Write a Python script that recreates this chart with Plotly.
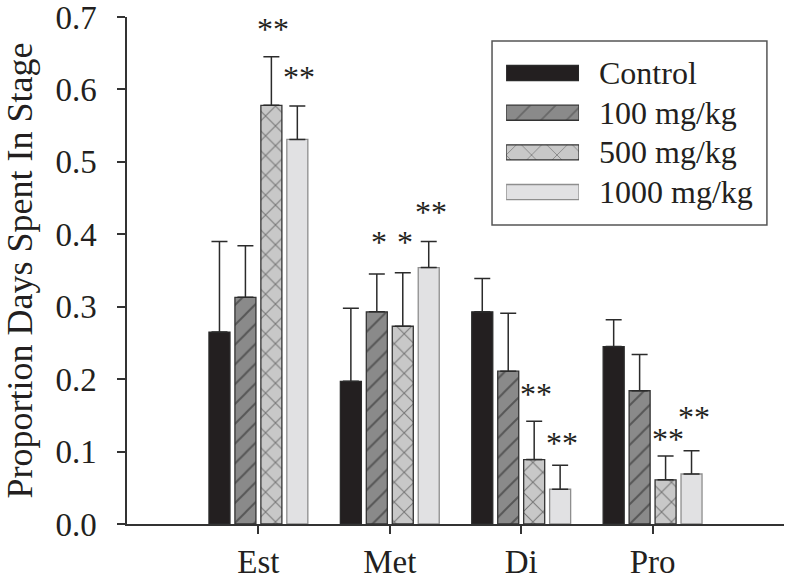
import plotly.graph_objects as go

# ---------------- data ----------------
stages = ["Est", "Met", "Di", "Pro"]
series_names = ["Control", "100 mg/kg", "500 mg/kg", "1000 mg/kg"]

control = [0.265, 0.197, 0.293, 0.245]
control_err = [0.125, 0.101, 0.046, 0.037]
dose100 = [0.313, 0.293, 0.211, 0.184]
dose100_err = [0.071, 0.052, 0.080, 0.050]
dose500 = [0.578, 0.273, 0.089, 0.061]
dose500_err = [0.067, 0.074, 0.053, 0.033]
dose1000 = [0.531, 0.354, 0.048, 0.069]
dose1000_err = [0.046, 0.036, 0.033, 0.032]

# significance marks: series index, stage index, text, height of the mark
sig_series = [2, 3, 1, 2, 3, 2, 3, 2, 3]
sig_stage = [0, 0, 1, 1, 1, 2, 2, 3, 3]
sig_text = ["**", "**", "*", "*", "**", "**", "**", "**", "**"]
sig_y = [0.687, 0.621, 0.393, 0.393, 0.435, 0.183, 0.116, 0.122, 0.152]

y_ticks = [0.0, 0.1, 0.2, 0.3, 0.4, 0.5, 0.6, 0.7]

# ---------------- styles ----------------
values = [control, dose100, dose500, dose1000]
errors = [control_err, dose100_err, dose500_err, dose1000_err]
fills = ["#231f20", "#8a8a8a", "#c8c8c8", "#e1e1e3"]
edges = ["#2a2a2a", "#333333", "#333333", "#8e8e8e"]
shapes_p = ["", "/", "x", ""]
FONT = "Liberation Serif"
INK = "#231f20"

BARGAP = 0.21
BARGROUPGAP = 0.19

fig = go.Figure()
for i in range(4):
    fig.add_trace(go.Bar(
        x=stages, y=values[i], name=series_names[i],
        marker=dict(color=fills[i],
                    line=dict(color=edges[i], width=1.3),
                    pattern=dict(shape=shapes_p[i], fgcolor="#222222",
                                 bgcolor=fills[i], size=14, solidity=0.14)),
        error_y=dict(type="data", symmetric=False, array=errors[i],
                     arrayminus=[0] * len(stages), color="#2b2b2b",
                     thickness=1.5, width=8),
        hoverinfo="skip", showlegend=False,
    ))

# significance annotations positioned on the group slots
slot = (1 - BARGAP) / 4
for s, c, t, yv in zip(sig_series, sig_stage, sig_text, sig_y):
    xpos = c - (1 - BARGAP) / 2 + (s + 0.5) * slot
    fig.add_annotation(x=xpos, y=yv, xref="x", yref="y", text=t,
                       showarrow=False, xanchor="center", yanchor="middle",
                       yshift=-3, xshift=2,
                       font=dict(family=FONT, size=32, color=INK))

# ---------------- legend (drawn on an overlay axis pair) ----------------
fig.add_trace(go.Bar(
    x=[1, 1, 1, 1], y=[0, 1, 2, 3], base=0, orientation="h", width=0.38,
    marker=dict(color=fills,
                line=dict(color=edges, width=1.3),
                pattern=dict(shape=shapes_p, fgcolor="#222222",
                             bgcolor=fills, size=18, solidity=0.1)),
    xaxis="x2", yaxis="y2", hoverinfo="skip", showlegend=False,
))
for i, nm in enumerate(series_names):
    fig.add_annotation(x=0.715, y=i, xref="paper", yref="y2", text=nm,
                       showarrow=False, xanchor="left", yanchor="middle",
                       font=dict(family=FONT, size=32, color=INK))
fig.add_shape(type="rect", xref="paper", yref="paper",
              x0=0.5556, x1=0.974, y0=0.5897, y1=0.9527,
              line=dict(color="#555555", width=1.5), fillcolor="rgba(0,0,0,0)")

fig.update_layout(
    width=789, height=581,
    margin=dict(l=127, r=5, t=17, b=57, autoexpand=False),
    plot_bgcolor="white", paper_bgcolor="white",
    font=dict(family=FONT, color=INK),
    barmode="group", bargap=BARGAP, bargroupgap=BARGROUPGAP,
    showlegend=False,
    xaxis=dict(type="category", range=[-1, 4], showline=True,
               automargin=False,
               linecolor="#333333", linewidth=1.5, ticks="outside",
               ticklen=8, tickwidth=1.5, tickcolor="#333333",
               tickfont=dict(family=FONT, size=33, color=INK),
               ticklabeloverflow="allow", ticklabelstandoff=0,
               showgrid=False, zeroline=False),
    yaxis=dict(range=[0, 0.7], tickvals=y_ticks, tickformat=".1f",
               automargin=False,
               showline=True, linecolor="#333333", linewidth=1.5,
               ticks="outside", ticklen=8, tickwidth=1.5,
               tickcolor="#333333", ticklabeloverflow="allow",
               ticklabelstandoff=14,
               tickfont=dict(family=FONT, size=33, color=INK),
               showgrid=False, zeroline=False,
               title=dict(text="Proportion Days Spent In Stage",
                          font=dict(family=FONT, size=36, color=INK),
                          standoff=17)),
    xaxis2=dict(domain=[0.577, 0.688], range=[0, 1], anchor="y2",
                visible=False, fixedrange=True, automargin=False),
    yaxis2=dict(domain=[0.6156, 0.9286], range=[3.5, -0.5], anchor="x2",
                visible=False, fixedrange=True, automargin=False),
)

fig.write_html("out.html", config={"displayModeBar": False},
               post_script="document.body.style.margin='0';"
                           "document.body.style.overflow='hidden';")
